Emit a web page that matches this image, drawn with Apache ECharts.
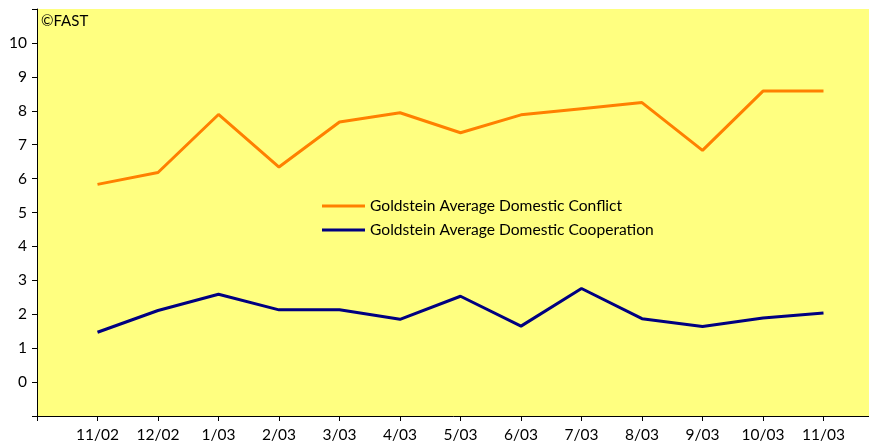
<!DOCTYPE html>
<html>
<head>
<meta charset="UTF-8">
<title>Goldstein Average</title>
<style>
    html, body { margin: 0; padding: 0; background: #fff; }
    #chartArea { width: 869px; height: 441px; }
</style>
</head>
<body>
<div id="chartArea"></div>
<script src="https://cdn.jsdelivr.net/npm/echarts@6/dist/echarts.min.js"></script>
<script>
// blank slots either side so the first month sits one step in from the axis
var months = ['', '11/02', '12/02', '1/03', '2/03', '3/03', '4/03', '5/03', '6/03', '7/03', '8/03', '9/03', '10/03', '11/03', ''];
var conflict = [null, 5.83, 6.18, 7.89, 6.34, 7.67, 7.94, 7.35, 7.88, 8.06, 8.24, 6.83, 8.58, 8.58, null];
var cooperation = [null, 1.47, 2.11, 2.59, 2.13, 2.13, 1.85, 2.53, 1.65, 2.76, 1.87, 1.64, 1.89, 2.04, null];

var FONT = 'Lato';

var myChart = echarts.init(document.getElementById('chartArea'));
myChart.setOption({
    animation: false,
    textStyle: { fontFamily: FONT },
    grid: {
        left: 37,
        right: -15,
        top: 9,
        bottom: 25,
        outerBoundsMode: 'none',
        show: true,
        backgroundColor: '#ffff80',
        borderWidth: 0
    },
    graphic: [{
        type: 'text',
        left: 41,
        top: 14,
        style: { text: '©FAST', fill: '#000', font: '15px ' + FONT }
    }],
    legend: {
        orient: 'vertical',
        left: 322,
        top: 198,
        padding: 0,
        itemWidth: 43,
        itemHeight: 3,
        itemGap: 8,
        icon: 'rect',
        textStyle: { color: '#000', fontSize: 15.6, fontFamily: FONT },
        data: ['Goldstein Average Domestic Conflict', 'Goldstein Average Domestic Cooperation']
    },
    xAxis: {
        type: 'category',
        data: months,
        boundaryGap: false,
        axisLine: { onZero: false, lineStyle: { color: '#000', width: 1 } },
        axisTick: { show: true, length: 5, interval: 0, lineStyle: { color: '#000' } },
        axisLabel: { interval: 0, color: '#000', fontSize: 15.5, margin: 11 },
        splitLine: { show: false }
    },
    yAxis: {
        type: 'value',
        min: -1,
        max: 11,
        interval: 1,
        axisLine: { show: true, lineStyle: { color: '#000', width: 1 } },
        axisTick: { show: true, length: 5, lineStyle: { color: '#000' } },
        axisLabel: {
            color: '#000',
            fontSize: 15.5,
            margin: 10,
            formatter: function (v) { return (v < 0 || v > 10) ? '' : v; }
        },
        splitLine: { show: false }
    },
    series: [{
        name: 'Goldstein Average Domestic Conflict',
        type: 'line',
        data: conflict,
        symbol: 'none',
        color: '#ff8000',
        lineStyle: { color: '#ff8000', width: 3 }
    }, {
        name: 'Goldstein Average Domestic Cooperation',
        type: 'line',
        data: cooperation,
        symbol: 'none',
        color: '#000080',
        lineStyle: { color: '#000080', width: 3 }
    }]
});
</script>
</body>
</html>
